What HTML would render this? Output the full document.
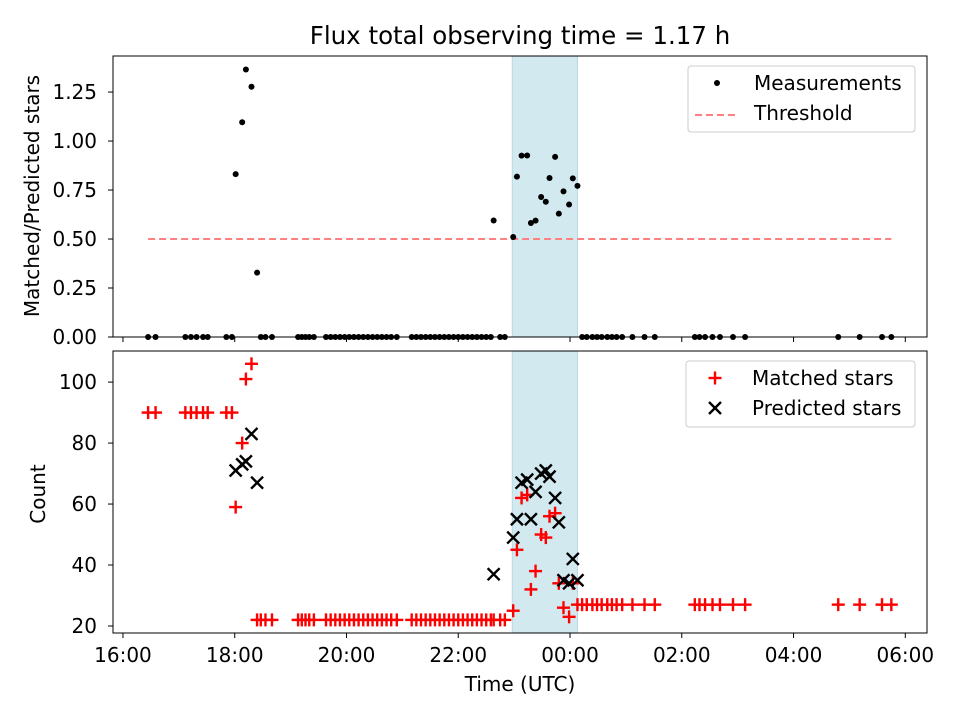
<!DOCTYPE html>
<html><head><meta charset="utf-8"><style>
body{margin:0;background:#fff;}
svg text{font-family:"DejaVu Sans","Liberation Sans",sans-serif;fill:#000;}
</style></head><body>
<svg id="chart" width="960" height="720" xmlns="http://www.w3.org/2000/svg"></svg>
<script>
const times=["16:27","16:35","17:07","17:13","17:19","17:26","17:31","17:51","17:57","18:01","18:08","18:12","18:18","18:24","18:28","18:33","18:40",
"19:08","19:12","19:16","19:20","19:25","19:38","19:43","19:48","19:53","19:58","20:03","20:08","20:13","20:18","20:23","20:28","20:33","20:38","20:43","20:48","20:54",
"21:10","21:15","21:20","21:25","21:30","21:35","21:40","21:45","21:50","21:55","22:00","22:05","22:10","22:15","22:20","22:25","22:30","22:35","22:38","22:45","22:50",
"22:59","23:03","23:08","23:14","23:18","23:23","23:29","23:34","23:38","23:44","23:48","23:53","23:59","00:03","00:08",
"00:13","00:18","00:24","00:29","00:34","00:40","00:45","00:50","00:56","01:07","01:20","01:31","02:14","02:19","02:25","02:33","02:41","02:55","03:08","04:48","05:11","05:35","05:45"];
const matched=[90,90,90,90,90,90,90,90,90,59,80,101,106,22,22,22,22,
22,22,22,22,22,22,22,22,22,22,22,22,22,22,22,22,22,22,22,22,22,
22,22,22,22,22,22,22,22,22,22,22,22,22,22,22,22,22,22,22,22,22,
25,45,62,63,32,38,50,49,56,57,34,26,23,34,27,
27,27,27,27,27,27,27,27,27,27,27,27,27,27,27,27,27,27,27,27,27,27,27];
const predicted=[null,null,null,null,null,null,null,null,null,71,73,74,83,67,null,null,null,
null,null,null,null,null,null,null,null,null,null,null,null,null,null,null,null,null,null,null,null,null,
null,null,null,null,null,null,null,null,null,null,null,null,null,null,null,null,null,null,37,null,null,
49,55,67,68,55,64,70,71,69,62,54,35,34,42,35,
null,null,null,null,null,null,null,null,null,null,null,null,null,null,null,null,null,null,null,null,null,null,null];
const threshold=0.5;
const shadeSpan=["22:58","00:08"];
const xTicks=["16:00","18:00","20:00","22:00","00:00","02:00","04:00","06:00"];
const yTicksTop=[0,0.25,0.5,0.75,1.0,1.25];
const yTicksBot=[20,40,60,80,100];

const NS="http://www.w3.org/2000/svg";
const svg=document.getElementById('chart');
function mk(tag,attrs,parent){const e=document.createElementNS(NS,tag);for(const k in attrs)e.setAttribute(k,attrs[k]);(parent||svg).appendChild(e);return e;}
function toMin(s){const [h,m]=s.split(':').map(Number);let v=(h-16)*60+m;if(h<12)v+=24*60;return v;}
const L=113,R=927;
const xDom=[-10.7,863.3];
const X=m=>L+(m-xDom[0])/(xDom[1]-xDom[0])*(R-L);
const T={top:56,bot:337,d0:0,d1:1.434};
const B={top:351,bot:633,d0:17.7,d1:110.2};
const Yt=v=>T.bot-(v-T.d0)/(T.d1-T.d0)*(T.bot-T.top);
const Yb=v=>B.bot-(v-B.d0)/(B.d1-B.d0)*(B.bot-B.top);
const FS=20;

let t=mk('text',{x:520,y:44,'text-anchor':'middle','font-size':24.5});t.textContent='Flux total observing time = 1.17 h';



function panel(P,Y,yTicks,fmt,name){
  const g=mk('g',{});
  
  
  const s=mk('rect',{x:X(toMin(shadeSpan[0])),y:P.top,width:X(toMin(shadeSpan[1]))-X(toMin(shadeSpan[0])),height:P.bot-P.top,fill:'#d3e9f0',stroke:'#b5dbe6','stroke-width':1},g);
  
  
  yTicks.forEach(v=>{
    mk('line',{x1:L-5,x2:L,y1:Y(v),y2:Y(v),stroke:'#000','stroke-width':1},g);
    const tx=mk('text',{x:L-16,y:Y(v)+7,'text-anchor':'end','font-size':FS},g);tx.textContent=fmt(v);
    
    
  });
  xTicks.forEach(s=>{mk('line',{x1:X(toMin(s)),x2:X(toMin(s)),y1:P.bot,y2:P.bot+5,stroke:'#000','stroke-width':1},g);});
  return g;
}
const gT=panel(T,Yt,yTicksTop,v=>v.toFixed(2),'top-panel');
const gB=panel(B,Yb,yTicksBot,v=>String(v),'bottom-panel');

const th=mk('line',{x1:X(toMin(times[0])),x2:X(toMin(times[times.length-1])),y1:Yt(threshold),y2:Yt(threshold),stroke:'#ff8080','stroke-width':2,'stroke-dasharray':'7,4'},gT);


times.forEach((s,i)=>{
  const r=predicted[i]?matched[i]/predicted[i]:0;
  const c=mk('circle',{cx:X(toMin(s)),cy:Yt(r),r:3,fill:'#000'},gT);
  
  
});
function plus(x,y,parent){const g=mk('g',{stroke:'#f00','stroke-width':2.4},parent);mk('line',{x1:x-6.5,x2:x+6.5,y1:y,y2:y},g);mk('line',{x1:x,x2:x,y1:y-6.5,y2:y+6.5},g);return g;}
function cross(x,y,parent){const g=mk('g',{stroke:'#000','stroke-width':2.4},parent);mk('line',{x1:x-6,x2:x+6,y1:y-6,y2:y+6},g);mk('line',{x1:x-6,x2:x+6,y1:y+6,y2:y-6},g);return g;}
times.forEach((s,i)=>{
  const p=plus(X(toMin(s)),Yb(matched[i]),gB);
  
  
});
times.forEach((s,i)=>{
  if(predicted[i]==null)return;
  const c=cross(X(toMin(s)),Yb(predicted[i]),gB);
  
  
});
[T,B].forEach(P=>{mk('rect',{x:L,y:P.top,width:R-L,height:P.bot-P.top,fill:'none',stroke:'#000','stroke-width':1});});
xTicks.forEach(s=>{const tx=mk('text',{x:X(toMin(s)),y:B.bot+29,'text-anchor':'middle','font-size':FS});tx.textContent=s;
  
  });
let xl=mk('text',{x:520,y:691,'text-anchor':'middle','font-size':FS});xl.textContent='Time (UTC)';


let yl=mk('text',{x:0,y:0,'text-anchor':'middle','font-size':FS,transform:'translate(39,196) rotate(-90)'});yl.textContent='Matched/Predicted stars';


let yl2=mk('text',{x:0,y:0,'text-anchor':'middle','font-size':FS,transform:'translate(45,494) rotate(-90)'});yl2.textContent='Count';



function legend(x,y,w,h,items,name){
  const g=mk('g',{});
  
  
  mk('rect',{x:x,y:y,width:w,height:h,rx:3,fill:'#fff','fill-opacity':0.85,stroke:'#ccc','stroke-width':1},g);
  items.forEach((it,i)=>{
    const cy=y+17+i*30;
    it.draw(x+27,cy,g);
    const tx=mk('text',{x:x+66,y:cy+7,'font-size':FS},g);tx.textContent=it.label;
    
    
  });
}
legend(688,66,227,66,[
  {label:'Measurements',draw:(x,y,g)=>mk('circle',{cx:x+2,cy:y,r:3,fill:'#000'},g)},
  {label:'Threshold',draw:(x,y,g)=>mk('line',{x1:x-20,x2:x+23,y1:y+2,y2:y+2,stroke:'#ff8080','stroke-width':2,'stroke-dasharray':'7,4'},g)}
],'top-legend');
legend(686,361,229,66,[
  {label:'Matched stars',draw:(x,y,g)=>plus(x+2,y,g)},
  {label:'Predicted stars',draw:(x,y,g)=>cross(x+2,y,g)}
],'bottom-legend');
</script>
</body></html>
